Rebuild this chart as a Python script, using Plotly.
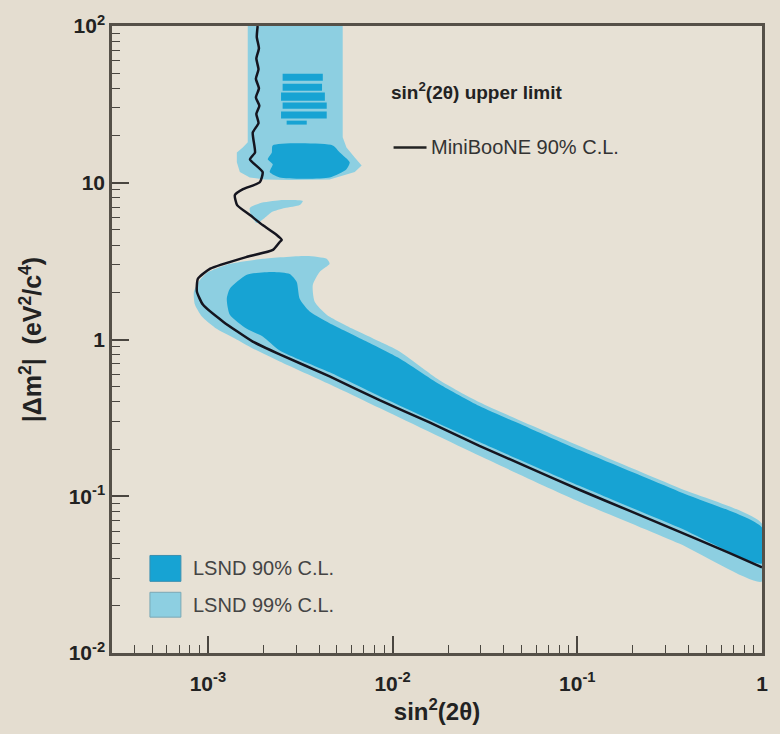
import plotly.graph_objects as go

# ---------------- data ----------------
# MiniBooNE 90% C.L. upper limit curve
mb_x = [1.86e-3, 1.84e-3, 1.89e-3, 1.83e-3, 1.88e-3, 1.82e-3, 1.89e-3, 1.82e-3, 1.90e-3,
        1.83e-3, 1.88e-3, 1.75e-3, 1.80e-3, 1.69e-3, 1.98e-3, 1.91e-3, 1.55e-3, 1.40e-3,
        1.44e-3, 1.69e-3, 1.98e-3, 2.36e-3, 2.51e-3, 2.45e-3, 2.25e-3, 1.63e-3, 1.03e-3,
        8.83e-4, 8.72e-4, 9.40e-4, 1.21e-3, 1.75e-3, 2.449e-3, 4.563e-3, 8.505e-3,
        1.585e-2, 2.951e-2, 5.51e-2, 0.1026, 0.191, 0.356, 0.664, 1.0]
mb_y = [100, 85, 72, 62, 53, 46, 40, 35, 31, 27.5, 24, 20.9, 15.6, 14.1, 11.7, 10.07,
        9.10, 8.34, 7.20, 6.22, 5.37, 4.64, 4.32, 4.19, 3.73, 3.37, 2.83, 2.44, 2.02,
        1.67, 1.30, 0.970, 0.803, 0.582, 0.410, 0.296, 0.2095, 0.1518, 0.110, 0.0809,
        0.0594, 0.0435, 0.0352]

# LSND 99% C.L. regions
l99_top_x = [1.644e-3, 5.37e-3, 5.37e-3, 5.63e-3, 6.24e-3, 6.80e-3, 6.24e-3, 4.56e-3,
             2.78e-3, 2.03e-3, 1.686e-3, 1.49e-3, 1.435e-3, 1.435e-3, 1.545e-3, 1.644e-3]
l99_top_y = [100, 100, 19.5, 16.8, 14.5, 12.9, 11.7, 10.5, 10.4, 10.5, 10.8, 11.7,
             13.5, 15.6, 16.8, 18.1]

l99_mid_x = [1.686e-3, 1.91e-3, 2.449e-3, 3.265e-3, 3.141e-3, 2.61e-3, 2.22e-3, 2.03e-3,
             1.84e-3, 1.73e-3]
l99_mid_y = [6.89, 7.41, 7.74, 7.64, 7.20, 6.89, 6.50, 5.96, 5.53, 6.04]

l99_low_x = [1.0e-3, 1.064e-3, 1.315e-3, 1.982e-3, 3.428e-3, 4.398e-3, 4.563e-3,
             4.029e-3, 3.698e-3, 3.788e-3, 4.398e-3, 6.081e-3, 8.505e-3, 1.091e-2,
             1.795e-2, 2.951e-2, 0.1026, 0.356, 1.0,
             1.0, 0.356, 0.1026, 2.951e-2, 8.505e-3, 4.563e-3, 2.449e-3, 1.75e-3,
             1.40e-3, 1.092e-3, 9.28e-4, 8.51e-4, 8.40e-4, 9.05e-4]
l99_low_y = [2.70, 2.78, 3.04, 3.27, 3.41, 3.27, 3.04,
             2.70, 2.23, 1.74, 1.44, 1.17, 0.970, 0.839,
             0.550, 0.398, 0.2095, 0.113, 0.0668,
             0.0286, 0.0499, 0.0923, 0.181, 0.365, 0.518, 0.724, 0.877,
             1.015, 1.19, 1.40, 1.67, 2.02, 2.40]

# LSND 90% C.L. regions
l90_stripe_y = [(49.5, 44.8), (42.8, 38.7), (37.6, 33.4), (32.5, 29.7), (28.5, 25.7), (24.9, 23.5)]
l90_stripe_x = [(2.54e-3, 4.19e-3), (2.54e-3, 4.15e-3), (2.49e-3, 4.30e-3),
                (2.54e-3, 4.40e-3), (2.49e-3, 4.40e-3), (2.67e-3, 3.43e-3)]

l90_band_x = [2.245e-3, 4.742e-3, 5.18e-3, 5.86e-3, 5.63e-3, 4.563e-3, 2.449e-3, 2.163e-3,
              2.245e-3, 2.11e-3, 2.22e-3]
l90_band_y = [17.3, 17.3, 15.6, 13.5, 12.2, 10.8, 10.8, 11.7, 13.1, 14.1, 15.6]

l90_low_x = [1.315e-3, 1.625e-3, 2.245e-3, 2.775e-3, 3.027e-3, 3.141e-3, 3.558e-3, 4.742e-3,
             7.228e-3, 1.091e-2, 1.795e-2, 2.951e-2, 5.51e-2, 0.1026, 0.356, 1.0,
             1.0, 0.356, 0.1026, 2.951e-2, 8.505e-3, 4.563e-3, 2.449e-3, 1.982e-3,
             1.625e-3, 1.315e-3, 1.266e-3]
l90_low_y = [2.11, 2.59, 2.70, 2.62, 2.33, 1.82, 1.51, 1.24,
             0.970, 0.757, 0.518, 0.376, 0.272, 0.197, 0.107, 0.0631,
             0.0373, 0.0631, 0.1166, 0.222, 0.435, 0.617, 0.851, 1.045,
             1.17, 1.44, 1.82]

x_tickvals = [1e-3, 1e-2, 1e-1, 1]
x_ticktext = ["<b>10<sup>-3</sup></b>", "<b>10<sup>-2</sup></b>", "<b>10<sup>-1</sup></b>", "<b>1</b>"]
y_tickvals = [1e-2, 1e-1, 1, 10, 100]
y_ticktext = ["<b>10<sup>-2</sup></b>", "<b>10<sup>-1</sup></b>", "<b>1</b>", "<b>10</b>", "<b>10<sup>2</sup></b>"]

legend_labels = ["LSND 90% C.L.", "LSND 99% C.L."]
line_label = "MiniBooNE 90% C.L."
header = "<b>sin<sup>2</sup>(2θ) upper limit</b>"

# ---------------- style ----------------
C90 = "#17a3d3"
C99 = "#8dcfe1"
BG = "#e4ddd0"
PLOTBG = "#e7e1d5"
FONT = "Liberation Sans"

fig = go.Figure()

def poly(xs, ys, color, smooth=False):
    fig.add_trace(go.Scatter(x=xs + [xs[0]], y=ys + [ys[0]], mode="lines", fill="toself",
                             fillcolor=color, line=dict(width=0, color=color,
                             shape="spline" if smooth else "linear", smoothing=0.6),
                             hoverinfo="skip", showlegend=False))

poly(l99_top_x, l99_top_y, C99)
poly(l99_mid_x, l99_mid_y, C99, True)
poly(l99_low_x, l99_low_y, C99, True)
for (ya, yb), (xa, xb) in zip(l90_stripe_y, l90_stripe_x):
    poly([xa, xb, xb, xa], [ya, ya, yb, yb], C90)
poly(l90_band_x, l90_band_y, C90, True)
poly(l90_low_x, l90_low_y, C90, True)

fig.add_trace(go.Scatter(x=mb_x, y=mb_y, mode="lines",
                         line=dict(color="#15151f", width=2.5, shape="spline", smoothing=0.5),
                         hoverinfo="skip", showlegend=False))

x_minor = [m * 10.0 ** e for e in (-4, -3, -2, -1) for m in range(2, 10) if m * 10.0 ** e > 3.05e-4]
y_minor = [m * 10.0 ** e for e in (-2, -1, 0, 1) for m in range(2, 10)]

axis_common = dict(type="log", showgrid=False, zeroline=False, showline=True, linewidth=2.5,
                   linecolor="#555048", mirror=True, ticks="inside", ticklen=17, tickwidth=1.5,
                   tickcolor="#4a4640", tickfont=dict(family=FONT, size=21, color="#222"))

fig.update_xaxes(range=[-3.519, 0], tickvals=x_tickvals, ticktext=x_ticktext, ticklabelstandoff=10,
                 minor=dict(tickvals=x_minor, ticks="inside", ticklen=8, tickwidth=1.3, tickcolor="#4a4640"),
                 title=dict(text="<b>sin<sup>2</sup>(2θ)</b>", font=dict(family=FONT, size=24, color="#222"), standoff=8),
                 **axis_common)
fig.update_yaxes(range=[-2, 2], tickvals=y_tickvals, ticktext=y_ticktext,
                 minor=dict(tickvals=y_minor, ticks="inside", ticklen=8, tickwidth=1.3, tickcolor="#4a4640"),
                 title=dict(text="<b>|Δm<sup>2</sup>|  (eV<sup>2</sup>/c<sup>4</sup>)</b>",
                            font=dict(family=FONT, size=25, color="#222"), standoff=20),
                 **axis_common)

# manual legends
PX0, PW, PY0, PH = 112, 651, 653, 630
def px(x): return (x - PX0) / PW
def py(y): return (PY0 - y) / PH

fig.add_shape(type="rect", xref="paper", yref="paper", x0=px(150), x1=px(181), y0=py(581), y1=py(555),
              fillcolor=C90, line=dict(color="#3a8fb0", width=1))
fig.add_shape(type="rect", xref="paper", yref="paper", x0=px(150), x1=px(181), y0=py(617), y1=py(592),
              fillcolor=C99, line=dict(color="#7aa8b5", width=1))
fig.add_annotation(xref="paper", yref="paper", x=px(191), y=py(568), text=legend_labels[0], showarrow=False,
                   xanchor="left", yanchor="middle", font=dict(family=FONT, size=20, color="#444"))
fig.add_annotation(xref="paper", yref="paper", x=px(191), y=py(605), text=legend_labels[1], showarrow=False,
                   xanchor="left", yanchor="middle", font=dict(family=FONT, size=20, color="#444"))

fig.add_annotation(xref="paper", yref="paper", x=px(389), y=py(88), text=header, showarrow=False,
                   xanchor="left", yanchor="middle", font=dict(family=FONT, size=19, color="#222"))
fig.add_shape(type="line", xref="paper", yref="paper", x0=px(394), x1=px(427), y0=py(145), y1=py(145),
              line=dict(color="#222", width=2.5))
fig.add_annotation(xref="paper", yref="paper", x=px(429), y=py(145), text=line_label, showarrow=False,
                   xanchor="left", yanchor="middle", font=dict(family=FONT, size=20, color="#333"))

fig.update_layout(width=780, height=734, margin=dict(l=112, r=17, t=23, b=81),
                  paper_bgcolor=BG, plot_bgcolor=PLOTBG, showlegend=False)

fig.write_html("out.html")
